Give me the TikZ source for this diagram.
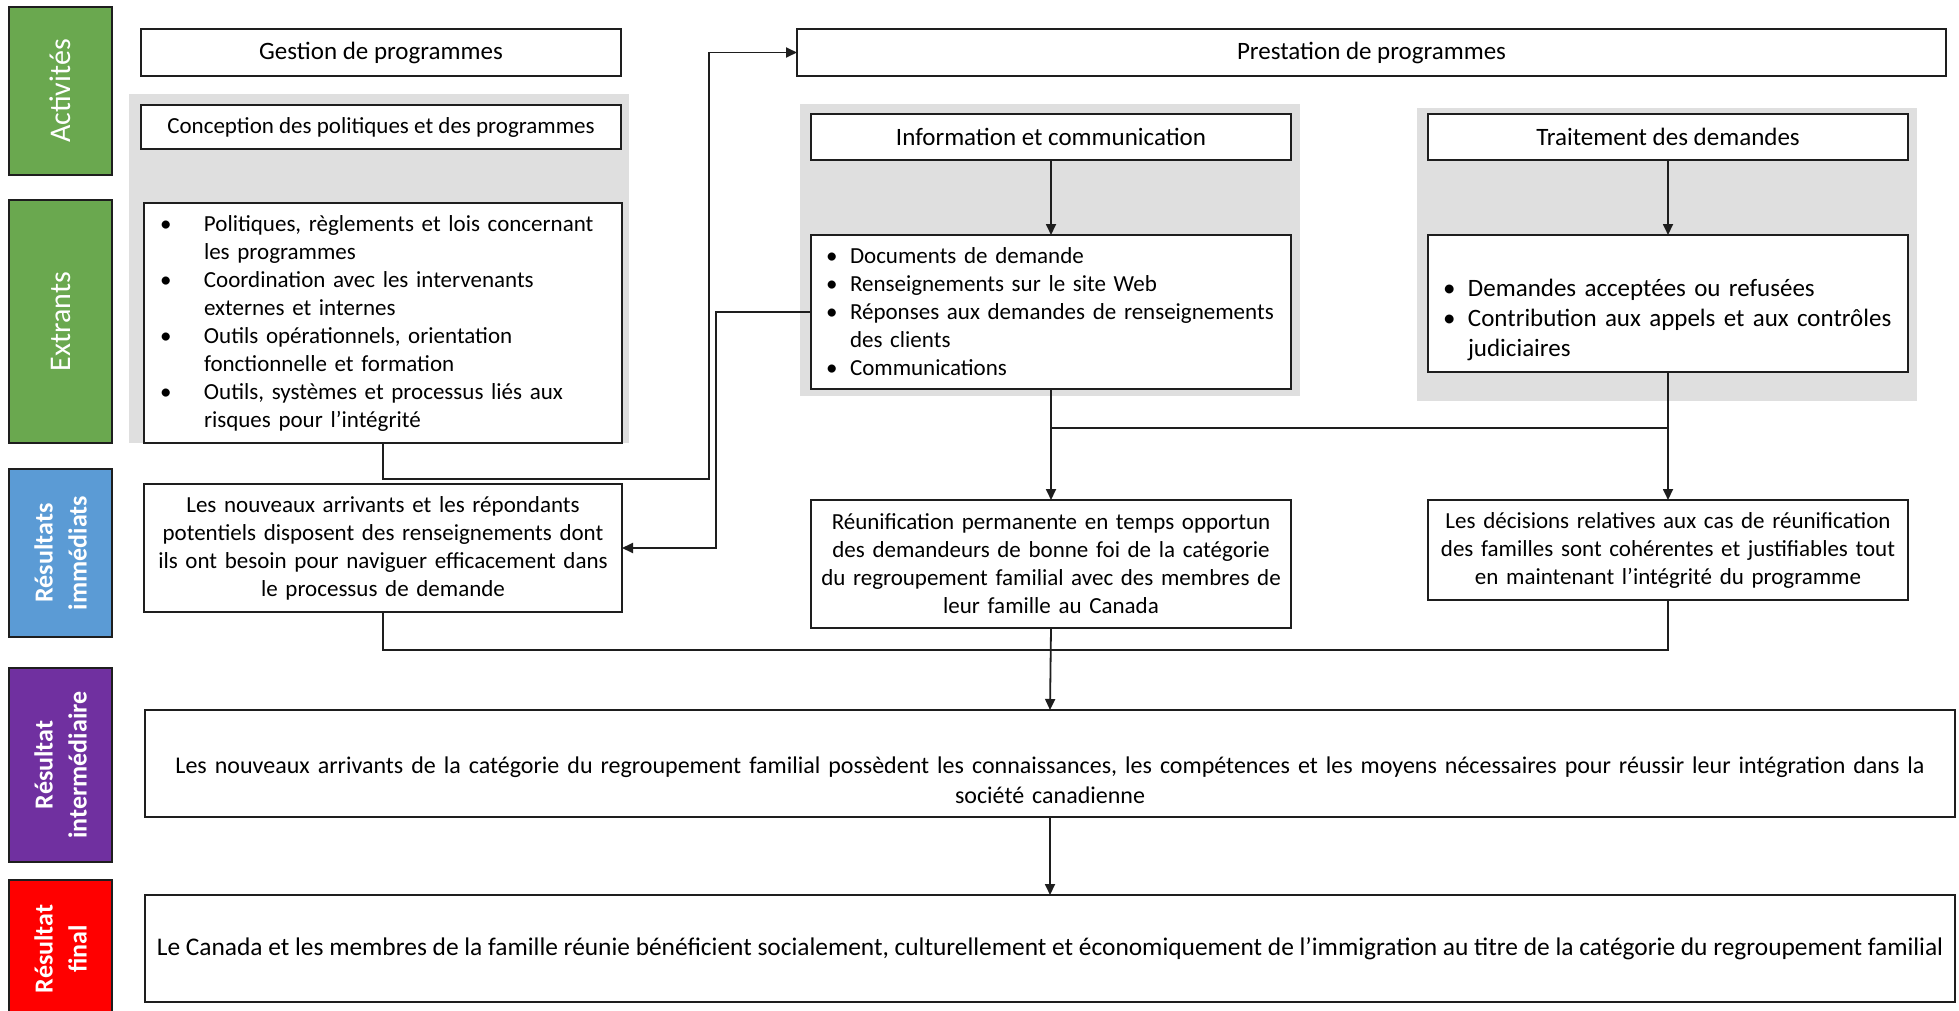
\documentclass[tikz,border=0pt]{standalone}
\usepackage{fontspec}
\setmainfont{Carlito}
\usetikzlibrary{arrows.meta}
\definecolor{lmgreen}{RGB}{106,168,79}
\definecolor{lmblue}{RGB}{91,155,213}
\definecolor{lmpurple}{RGB}{112,48,160}
\definecolor{lmred}{RGB}{255,0,0}
\definecolor{lmgray}{RGB}{223,223,223}
\definecolor{lmline}{RGB}{30,30,30}
\newcommand\lmb[1]{\makebox[#1][l]{\textbullet}}
\newcommand\lmh[1]{\hspace*{#1}}
\hyphenpenalty=10000
\exhyphenpenalty=10000
\begin{document}
\begin{tikzpicture}[x=1pt,y=-1pt,
  box/.style={draw=lmline, line width=2pt, fill=white, inner sep=0pt, outer sep=0pt},
  small/.style={font=\fontsize{23}{28}\selectfont},
  large/.style={font=\fontsize{25}{30}\selectfont},
  lab/.style={draw=lmline, line width=1.4pt, inner sep=0pt, outer sep=0pt, text=white, align=center, rotate=90},
  labreg/.style={lab, font=\fontsize{30}{35}\selectfont},
  labbold/.style={lab, font=\fontsize{26}{34}\selectfont\bfseries},
  panel/.style={fill=lmgray, draw=none},
  conn/.style={draw=lmline, line width=1.8pt},
  arr/.style={conn, -{Triangle[length=11pt,width=10pt]}},
]
\fill[white] (0,0) rectangle (1959,1011);
\useasboundingbox (0,0) rectangle (1959,1011);

% row labels
\node[labreg, fill=lmgreen, minimum width=168pt, minimum height=103pt] (lact) at (60.5,91) {Activités};
\node[labreg, fill=lmgreen, minimum width=243pt, minimum height=103pt] (lext) at (60.5,321.5) {Extrants};
\node[labbold, fill=lmblue, minimum width=168pt, minimum height=103pt] (limm) at (60.5,553) {Résultats\\immédiats};
\node[labbold, fill=lmpurple, minimum width=194pt, minimum height=103pt] (lint) at (60.5,765) {Résultat\\intermédiaire};
\node[labbold, fill=lmred, minimum width=138pt, minimum height=103pt] (lfin) at (60.5,949) {Résultat\\final};

% grey panels
\fill[panel] (129,94) rectangle (629,443);
\fill[panel] (800,104) rectangle (1300,396);
\fill[panel] (1417,108) rectangle (1917,401);

% activities
\node[box, large, minimum width=480pt, minimum height=47pt] (gestion) at (381,52.5) {Gestion de programmes};
\node[box, large, minimum width=1149pt, minimum height=47pt] (prest) at (1371.5,52.5) {Prestation de programmes};
\node[box, small, minimum width=480pt, minimum height=44pt] (concep) at (381,127) {Conception des politiques et des programmes};
\node[box, large, minimum width=480pt, minimum height=46pt] (info) at (1051,137) {Information et communication};
\node[box, large, minimum width=480pt, minimum height=46pt] (trt) at (1668,137) {Traitement des demandes};

% outputs
\node[box, small, minimum width=478pt, minimum height=240pt, text width=446pt, align=left] (gb) at (383,323) {%
\lmb{44pt}Politiques, règlements et lois concernant\\\lmh{44pt}les programmes\\
\lmb{44pt}Coordination avec les intervenants\\\lmh{44pt}externes et internes\\
\lmb{44pt}Outils opérationnels, orientation\\\lmh{44pt}fonctionnelle et formation\\
\lmb{44pt}Outils, systèmes et processus liés aux\\\lmh{44pt}risques pour l’intégrité};
\node[box, small, minimum width=480pt, minimum height=154pt, text width=450pt, align=left] (ib) at (1051,312) {%
\lmb{24pt}Documents de demande\\
\lmb{24pt}Renseignements sur le site Web\\
\lmb{24pt}Réponses aux demandes de renseignements\\\lmh{24pt}des clients\\
\lmb{24pt}Communications};
\node[box, large, minimum width=480pt, minimum height=137pt, text width=450pt, align=left] (tb) at (1668,303.5) {%
\strut\\
\lmb{25pt}Demandes acceptées ou refusées\\
\lmb{25pt}Contribution aux appels et aux contrôles\\\lmh{25pt}judiciaires};

% immediate outcomes
\node[box, small, minimum width=478pt, minimum height=128pt, text width=464pt, align=center] (ln) at (383,548) {Les nouveaux arrivants et les répondants\\potentiels disposent des renseignements dont\\ils ont besoin pour naviguer efficacement dans\\le processus de demande};
\node[box, small, minimum width=480pt, minimum height=128pt, text width=470pt, align=center] (reu) at (1051,564) {Réunification permanente en temps opportun\\des demandeurs de bonne foi de la catégorie\\du regroupement familial avec des membres de\\leur famille au Canada};
\node[box, small, minimum width=480pt, minimum height=100pt, text width=470pt, align=center] (dec) at (1668,550) {Les décisions relatives aux cas de réunification\\des familles sont cohérentes et justifiables tout\\en maintenant l’intégrité du programme};

% intermediate and final
\node[box, font=\fontsize{24}{30}\selectfont, minimum width=1810pt, minimum height=107pt, text width=1800pt, align=center] (inter) at (1050,763.5) {\strut\\Les nouveaux arrivants de la catégorie du regroupement familial possèdent les connaissances, les compétences et les moyens nécessaires pour réussir leur intégration dans la\\société canadienne};
\node[box, font=\fontsize{25.4}{30}\selectfont, minimum width=1810pt, minimum height=107pt] (fin) at (1050,948.5) {Le Canada et les membres de la famille réunie bénéficient socialement, culturellement et économiquement de l’immigration au titre de la catégorie du regroupement familial};

% junctions
\coordinate (j1) at (709,479);
\coordinate (j2) at (716,312);
\coordinate (h1) at (1051,428);
\coordinate (h2) at (1668,428);
\coordinate (h3) at (1051,650);

% connectors
\draw[arr] (gb.south) |- (j1) |- (prest.west);
\draw[arr] (ib.west) -- (j2) |- (ln.east);
\draw[arr] (info.south) -- (ib.north);
\draw[arr] (trt.south) -- (tb.north);
\draw[arr] (ib.south) -- (reu.north);
\draw[arr] (tb.south) -- (dec.north);
\draw[conn] (h1) -- (h2);
\draw[conn] (ln.south) |- (h3) -| (dec.south);
\draw[arr] (reu.south) -- (inter.north);
\draw[arr] (inter.south) -- (fin.north);
\end{tikzpicture}
\end{document}
